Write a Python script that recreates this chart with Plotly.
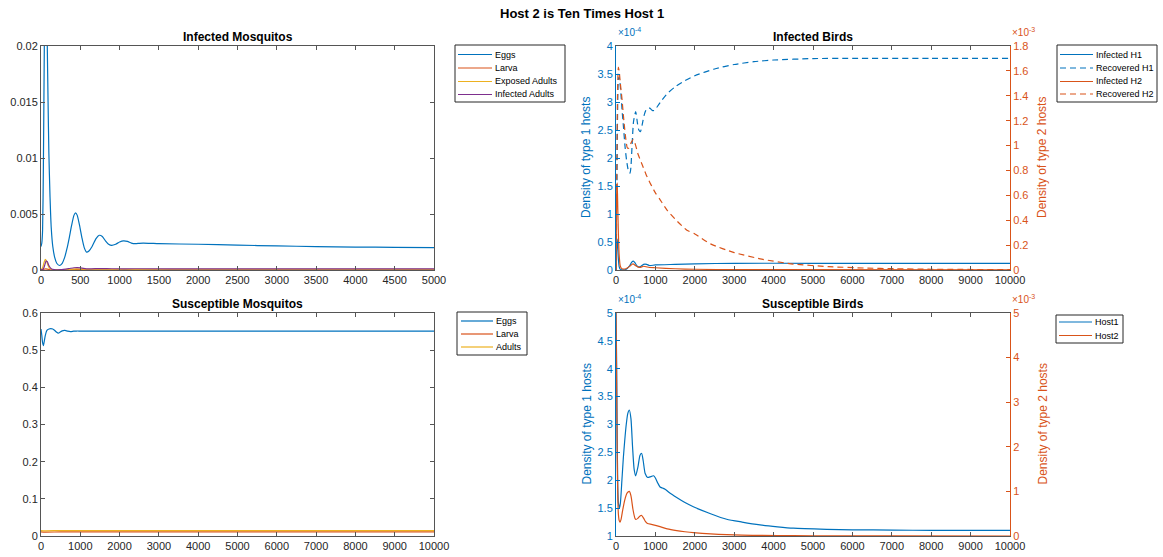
import plotly.graph_objects as go

# ---------------- data ----------------
# Infected Mosquitos (t in 0..5000)
im_eggs_t = [0, 10, 20, 30, 40, 50, 60, 70, 80, 90, 100, 115, 130, 150, 175, 200, 235, 270, 300, 330, 360,
             390, 420, 440, 460, 490, 520, 550, 580, 610, 650, 700, 740, 780, 820, 860, 900, 950, 1000, 1050,
             1100, 1150, 1200, 1250, 1300, 1400, 1500, 2000, 2500, 3000, 3500, 4000, 4500, 5000]
im_eggs_v = [0.0021, 0.0024, 0.0035, 0.009, 0.018, 0.026, 0.03, 0.028, 0.02, 0.015, 0.0105, 0.0065, 0.0038,
             0.0021, 0.0011, 0.0006, 0.0004, 0.0006, 0.0011, 0.0019, 0.0029, 0.0040, 0.0049, 0.0051, 0.0049,
             0.0040, 0.0029, 0.0020, 0.0016, 0.0017, 0.0021, 0.0028, 0.0031, 0.0030, 0.0026, 0.0023, 0.0022,
             0.0023, 0.0025, 0.0026, 0.00255, 0.0024, 0.00235, 0.00238, 0.0024, 0.00238, 0.00235, 0.0023,
             0.00222, 0.00215, 0.00209, 0.00205, 0.00202, 0.0020]
im_larva_t = [0, 30, 60, 80, 120, 200, 450, 1000, 5000]
im_larva_v = [0, 0.00005, 0.0001, 0.00008, 0.00002, 0.00001, 0.00003, 0.00003, 0.00003]
im_exposed_t = [0, 20, 40, 55, 70, 90, 110, 140, 200, 300, 400, 450, 500, 600, 800, 1000, 2000, 5000]
im_exposed_v = [0, 0.0002, 0.0007, 0.00095, 0.0008, 0.0004, 0.00015, 0.00003, 0.00001, 0.00003, 0.00008,
                0.0001, 0.00009, 0.00005, 0.00006, 0.00005, 0.00005, 0.00005]
im_infected_t = [0, 30, 50, 65, 80, 100, 130, 170, 250, 350, 420, 460, 520, 600, 750, 900, 1200, 2000, 5000]
im_infected_v = [0, 0.0001, 0.0005, 0.0008, 0.00075, 0.0004, 0.00012, 0.00004, 0.00003, 0.00012, 0.0002,
                 0.00022, 0.00017, 0.0001, 0.00013, 0.00011, 0.00011, 0.0001, 0.0001]

# Susceptible Mosquitos (t in 0..10000)
sm_eggs_t = [0, 20, 40, 60, 80, 110, 150, 200, 250, 300, 350, 400, 440, 480, 540, 610, 680, 750, 830, 900,
             1000, 1500, 10000]
sm_eggs_v = [0.557, 0.54, 0.52, 0.512, 0.522, 0.54, 0.553, 0.557, 0.558, 0.557, 0.553, 0.548, 0.546, 0.548,
             0.552, 0.553, 0.551, 0.550, 0.551, 0.5515, 0.5515, 0.5515, 0.5515]
sm_larva_t = [0, 100, 500, 1000, 10000]
sm_larva_v = [0.011, 0.0105, 0.011, 0.011, 0.011]
sm_adults_t = [0, 100, 500, 1000, 10000]
sm_adults_v = [0.0145, 0.014, 0.0145, 0.0145, 0.0145]

# Infected Birds (t in 0..10000); host 1 in units of 1e-4, host 2 in units of 1e-3
ib_inf1_t = [0, 10, 20, 30, 40, 60, 80, 100, 150, 250, 350, 400, 440, 480, 550, 620, 700, 780, 850, 1000,
             1500, 2000, 3000, 5000, 10000]
ib_inf1_v = [0, 0.3, 0.5, 0.55, 0.45, 0.2, 0.06, 0.02, 0.005, 0.01, 0.08, 0.14, 0.16, 0.13, 0.06, 0.06, 0.1,
             0.1, 0.08, 0.09, 0.1, 0.11, 0.12, 0.12, 0.12]
ib_rec1_t = [0, 20, 40, 60, 80, 100, 130, 160, 190, 230, 270, 320, 356, 380, 410, 445, 500, 545, 580, 620,
             660, 720, 780, 860, 920, 980, 1050, 1150, 1300, 1500, 1750, 2000, 2500, 3000, 3500, 4000, 5000,
             6000, 8000, 10000]
ib_rec1_v = [0, 1.2, 2.8, 3.4, 3.45, 3.35, 3.1, 2.8, 2.55, 2.2, 1.95, 1.76, 1.73, 1.85, 2.25, 2.65, 2.83,
             2.62, 2.5, 2.47, 2.58, 2.78, 2.88, 2.89, 2.85, 2.85, 2.92, 3.02, 3.15, 3.27, 3.38, 3.47, 3.59, 3.67,
             3.72, 3.75, 3.775, 3.78, 3.78, 3.78]
ib_inf2_t = [0, 10, 20, 30, 45, 60, 80, 110, 150, 250, 350, 430, 500, 600, 700, 850, 1000, 1500, 2000, 3000,
             10000]
ib_inf2_v = [0, 0.4, 0.65, 0.7, 0.5, 0.3, 0.12, 0.03, 0.01, 0.01, 0.03, 0.05, 0.035, 0.02, 0.03, 0.02, 0.018,
             0.01, 0.006, 0.003, 0.002]
ib_rec2_t = [0, 20, 40, 60, 80, 110, 150, 200, 250, 290, 330, 380, 440, 500, 560, 660, 760, 880, 1000, 1130,
             1300, 1560, 1800, 2000, 2400, 3000, 3700, 4500, 5400, 6300, 7100, 8000, 10000]
ib_rec2_v = [0, 0.8, 1.45, 1.63, 1.6, 1.5, 1.38, 1.2, 1.05, 0.98, 0.98, 1.02, 1.05, 1.0, 0.93, 0.85, 0.77,
             0.69, 0.62, 0.56, 0.48, 0.39, 0.32, 0.29, 0.21, 0.14, 0.087, 0.048, 0.027, 0.016, 0.01, 0.006,
             0.003]

# Susceptible Birds (t in 0..10000); host 1 in 1e-4, host 2 in 1e-3
sb_h1_t = [0, 15, 30, 45, 60, 86, 110, 150, 186, 220, 260, 300, 339, 380, 420, 460, 500, 560, 610, 652, 690,
           740, 804, 860, 956, 1000, 1060, 1118, 1180, 1245, 1350, 1540, 1750, 1963, 2400, 2809, 3200, 3655,
           4100, 4500, 5347, 6000, 7040, 8000, 10000]
sb_h1_v = [5.0, 4.2, 2.8, 1.9, 1.6, 1.5, 1.58, 2.0, 2.4, 2.7, 3.0, 3.2, 3.26, 3.1, 2.6, 2.2, 2.08, 2.25, 2.45,
           2.48, 2.35, 2.12, 2.05, 2.06, 2.08, 2.04, 1.95, 1.88, 1.86, 1.84, 1.78, 1.69, 1.6, 1.525, 1.4, 1.30,
           1.25, 1.20, 1.165, 1.14, 1.12, 1.11, 1.107, 1.10, 1.10]
sb_h2_t = [0, 15, 30, 45, 60, 80, 103, 130, 170, 220, 280, 338, 380, 430, 480, 508, 560, 610, 651, 700, 750,
           800, 900, 1000, 1117, 1300, 1540, 1750, 1963, 2400, 2809, 3200, 3700, 4500, 5500, 7000, 10000]
sb_h2_v = [5.0, 3.5, 1.8, 0.9, 0.5, 0.35, 0.31, 0.38, 0.58, 0.8, 0.96, 1.0, 0.9, 0.6, 0.4, 0.37, 0.4, 0.45,
           0.46, 0.4, 0.32, 0.28, 0.26, 0.24, 0.21, 0.16, 0.12, 0.095, 0.075, 0.048, 0.03, 0.02, 0.013, 0.007,
           0.003, 0.001, 0.0]

# tick values / labels
x_ticks_5k = [0, 500, 1000, 1500, 2000, 2500, 3000, 3500, 4000, 4500, 5000]
x_ticks_10k = [0, 1000, 2000, 3000, 4000, 5000, 6000, 7000, 8000, 9000, 10000]
im_y_ticks = [0, 0.005, 0.01, 0.015, 0.02]
im_y_text = ["0", "0.005", "0.01", "0.015", "0.02"]
sm_y_ticks = [0, 0.1, 0.2, 0.3, 0.4, 0.5, 0.6]
ib_y1_ticks = [0, 0.5, 1, 1.5, 2, 2.5, 3, 3.5, 4]
ib_y2_ticks = [0, 0.2, 0.4, 0.6, 0.8, 1, 1.2, 1.4, 1.6, 1.8]
sb_y1_ticks = [1, 1.5, 2, 2.5, 3, 3.5, 4, 4.5, 5]
sb_y2_ticks = [0, 1, 2, 3, 4, 5]

# ---------------- styling ----------------
W, H = 1163, 557
BLUE, ORANGE, YELLOW, PURPLE = "#0072BD", "#D95319", "#EDB120", "#7E2F8E"
AX = "#555555"
TXT = "#262626"
FONT = "Liberation Sans"
LW = 1.2


def px(x):
    return x / W


def py(y):
    return 1 - y / H


def fmt(v):
    return "%g" % v


fig = go.Figure()


def line(x, y, color, name, xa, ya, dash=None):
    fig.add_trace(go.Scatter(x=x, y=y, mode="lines", name=name, showlegend=False,
                             line=dict(color=color, width=LW, dash=dash, shape="spline", smoothing=0.6),
                             xaxis=xa, yaxis=ya))


line(im_eggs_t, im_eggs_v, BLUE, "Eggs", "x", "y")
line(im_larva_t, im_larva_v, ORANGE, "Larva", "x", "y")
line(im_exposed_t, im_exposed_v, YELLOW, "Exposed Adults", "x", "y")
line(im_infected_t, im_infected_v, PURPLE, "Infected Adults", "x", "y")

line(ib_inf1_t, [v * 1e-4 for v in ib_inf1_v], BLUE, "Infected H1", "x2", "y2")
line(ib_rec1_t, [v * 1e-4 for v in ib_rec1_v], BLUE, "Recovered H1", "x2", "y2", dash="6px,4px")
line(ib_inf2_t, [v * 1e-3 for v in ib_inf2_v], ORANGE, "Infected H2", "x2", "y3")
line(ib_rec2_t, [v * 1e-3 for v in ib_rec2_v], ORANGE, "Recovered H2", "x2", "y3", dash="6px,4px")

line(sm_eggs_t, sm_eggs_v, BLUE, "Eggs", "x3", "y4")
line(sm_larva_t, sm_larva_v, ORANGE, "Larva", "x3", "y4")
line(sm_adults_t, sm_adults_v, YELLOW, "Adults", "x3", "y4")

line(sb_h1_t, [v * 1e-4 for v in sb_h1_v], BLUE, "Host1", "x4", "y5")
line(sb_h2_t, [v * 1e-3 for v in sb_h2_v], ORANGE, "Host2", "x4", "y6")

tickfont = dict(family=FONT, size=11, color=TXT)


def xax(dom, anchor, ticks, rng):
    return dict(domain=dom, anchor=anchor, range=rng, tickvals=ticks, ticktext=[fmt(t) for t in ticks],
                showline=True, linecolor=AX, linewidth=1, mirror="ticks", ticks="inside", ticklen=4,
                tickcolor=AX, showgrid=False, zeroline=False, tickfont=tickfont, automargin=False)


def yax(dom, anchor, ticks, text, rng, color=None, mirror="ticks", side="left", overlaying=None):
    d = dict(anchor=anchor, range=rng, tickvals=ticks, ticktext=text, side=side,
             showline=True, linecolor=color or AX, linewidth=1, mirror=mirror, ticks="inside", ticklen=4,
             tickcolor=color or AX, showgrid=False, zeroline=False,
             tickfont=dict(family=FONT, size=11, color=color or TXT), automargin=False)
    if overlaying:
        d["overlaying"] = overlaying
    else:
        d["domain"] = dom
    return d


LX = [px(41), px(434)]
RX = [px(616), px(1010)]
TY = [py(270), py(46)]
BY = [py(536), py(313)]

fig.update_layout(
    width=W, height=H, margin=dict(l=0, r=0, t=0, b=0), paper_bgcolor="white", plot_bgcolor="white",
    showlegend=False,
    xaxis=xax(LX, "y", x_ticks_5k, [0, 5000]),
    yaxis=yax(TY, "x", im_y_ticks, im_y_text, [0, 0.02]),
    xaxis2=xax(RX, "y2", x_ticks_10k, [0, 10000]),
    yaxis2=yax(TY, "x2", [v * 1e-4 for v in ib_y1_ticks], [fmt(v) for v in ib_y1_ticks], [0, 4e-4],
               color=BLUE, mirror=False),
    yaxis3=yax(None, "x2", [v * 1e-3 for v in ib_y2_ticks], [fmt(v) for v in ib_y2_ticks], [0, 1.8e-3],
               color=ORANGE, mirror=False, side="right", overlaying="y2"),
    xaxis3=xax(LX, "y4", x_ticks_10k, [0, 10000]),
    yaxis4=yax(BY, "x3", sm_y_ticks, [fmt(v) for v in sm_y_ticks], [0, 0.6]),
    xaxis4=xax(RX, "y5", x_ticks_10k, [0, 10000]),
    yaxis5=yax(BY, "x4", [v * 1e-4 for v in sb_y1_ticks], [fmt(v) for v in sb_y1_ticks], [1e-4, 5e-4],
               color=BLUE, mirror=False),
    yaxis6=yax(None, "x4", [v * 1e-3 for v in sb_y2_ticks], [fmt(v) for v in sb_y2_ticks], [0, 5e-3],
               color=ORANGE, mirror=False, side="right", overlaying="y5"),
)

ann = []
shapes = []


def text(x, y, s, size=11, color=TXT, xanchor="center", yanchor="middle", angle=0, bold=False):
    ann.append(dict(x=px(x), y=py(y), xref="paper", yref="paper", text=("<b>%s</b>" % s) if bold else s,
                    showarrow=False, xanchor=xanchor, yanchor=yanchor, textangle=angle,
                    font=dict(family=FONT, size=size, color=color)))


# titles
text(582, 13, "Host 2 is Ten Times Host 1", size=13, color="#000", bold=True)
text(237.5, 37, "Infected Mosquitos", size=12, color="#000", bold=True)
text(813, 37, "Infected Birds", size=12, color="#000", bold=True)
text(237.5, 304, "Susceptible Mosquitos", size=12, color="#000", bold=True)
text(813, 304, "Susceptible Birds", size=12, color="#000", bold=True)

# axis labels
for yc in (158, 424.5):
    text(586, yc, "Density of type 1 hosts", size=12, color=BLUE, angle=-90)
    text(1042, yc, "Density of type 2 hosts", size=12, color=ORANGE, angle=-90)

# exponent multipliers
for ybot in (40, 307):
    text(616, ybot, "×10<sup>-4</sup>", size=10, color=BLUE, xanchor="left", yanchor="bottom")
    text(1010, ybot, "×10<sup>-3</sup>", size=10, color=ORANGE, xanchor="left", yanchor="bottom")


# legends (drawn as boxes with line samples)
def legend(box, entries, lx0, lx1, tx):
    x0, y0, x1, y1 = box
    shapes.append(dict(type="rect", xref="paper", yref="paper", x0=px(x0), x1=px(x1), y0=py(y1), y1=py(y0),
                       line=dict(color=TXT, width=1), fillcolor="white", layer="above"))
    for name, color, dash, yy in entries:
        shapes.append(dict(type="line", xref="paper", yref="paper", x0=px(lx0), x1=px(lx1), y0=py(yy),
                           y1=py(yy), line=dict(color=color, width=LW, dash=dash), layer="above"))
        text(tx, yy, name, size=9, color="#000", xanchor="left")


legend((455, 45, 565, 102),
       [("Eggs", BLUE, None, 54.5), ("Larva", ORANGE, None, 68), ("Exposed Adults", YELLOW, None, 81.5),
        ("Infected Adults", PURPLE, None, 94.5)], 458, 492, 493)
legend((457, 312, 527, 355),
       [("Eggs", BLUE, None, 321), ("Larva", ORANGE, None, 334), ("Adults", YELLOW, None, 347)],
       461, 493, 494)
legend((1057, 45, 1157, 102),
       [("Infected H1", BLUE, None, 54.5), ("Recovered H1", BLUE, "6px,4px", 68),
        ("Infected H2", ORANGE, None, 81.5), ("Recovered H2", ORANGE, "6px,4px", 94)], 1060, 1093, 1094)
legend((1056, 315, 1123, 343),
       [("Host1", BLUE, None, 322), ("Host2", ORANGE, None, 335.5)], 1059, 1092, 1093)

fig.update_layout(annotations=ann, shapes=shapes)
fig.write_html("out.html")
